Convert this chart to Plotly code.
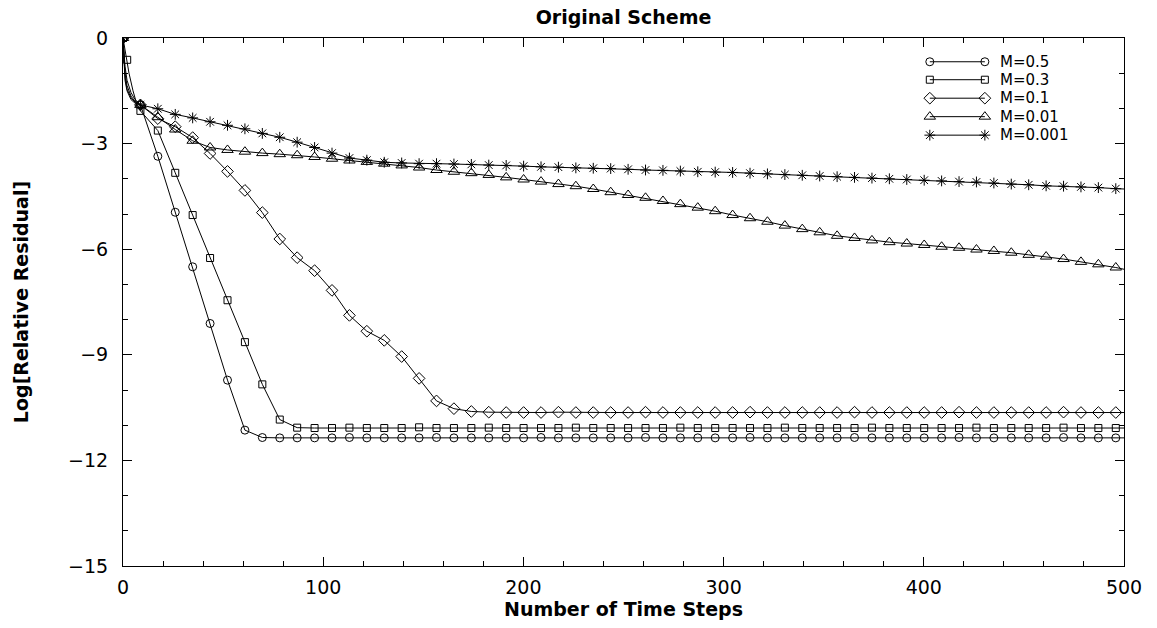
import plotly.graph_objects as go

# ---------------- data ----------------
steps = [0.0, 8.7, 17.4, 26.1, 34.8, 43.5, 52.2, 60.9, 69.6, 78.3,
         87.0, 95.7, 104.4, 113.1, 121.8, 130.5, 139.2, 147.9, 156.6, 165.3,
         174.0, 182.7, 191.4, 200.1, 208.8, 217.5, 226.2, 234.9, 243.6, 252.3,
         261.0, 269.7, 278.4, 287.1, 295.8, 304.5, 313.2, 321.9, 330.6, 339.3,
         348.0, 356.7, 365.4, 374.1, 382.8, 391.5, 400.2, 408.9, 417.6, 426.3,
         435.0, 443.7, 452.4, 461.1, 469.8, 478.5, 487.2, 495.9]

res_m05 = [0.00, -1.90, -3.36, -4.95, -6.50, -8.11, -9.72, -11.14, -11.35, -11.36,
           -11.36, -11.36, -11.36, -11.35, -11.36, -11.36, -11.36, -11.36, -11.35, -11.36,
           -11.36, -11.36, -11.36, -11.36, -11.35, -11.36, -11.36, -11.36, -11.36, -11.36,
           -11.35, -11.36, -11.36, -11.36, -11.36, -11.36, -11.35, -11.36, -11.36, -11.36,
           -11.36, -11.36, -11.35, -11.36, -11.36, -11.36, -11.36, -11.36, -11.35, -11.36,
           -11.36, -11.36, -11.36, -11.36, -11.35, -11.36, -11.36, -11.36]

res_m03 = [0.00, -2.07, -2.63, -3.83, -5.03, -6.25, -7.45, -8.64, -9.84, -10.84,
           -11.07, -11.08, -11.08, -11.07, -11.08, -11.08, -11.08, -11.06, -11.08, -11.08,
           -11.08, -11.07, -11.08, -11.08, -11.08, -11.08, -11.07, -11.08, -11.08, -11.08,
           -11.08, -11.08, -11.07, -11.08, -11.08, -11.08, -11.08, -11.08, -11.07, -11.08,
           -11.08, -11.08, -11.08, -11.07, -11.08, -11.08, -11.08, -11.08, -11.08, -11.07,
           -11.08, -11.08, -11.08, -11.08, -11.07, -11.08, -11.08, -11.08]

res_m01 = [0.00, -1.90, -2.29, -2.52, -2.83, -3.28, -3.79, -4.33, -4.96, -5.71,
           -6.24, -6.61, -7.17, -7.88, -8.33, -8.59, -9.05, -9.67, -10.31, -10.53,
           -10.61, -10.63, -10.64, -10.64, -10.64, -10.63, -10.64, -10.64, -10.64, -10.64,
           -10.63, -10.64, -10.64, -10.64, -10.64, -10.64, -10.63, -10.64, -10.64, -10.64,
           -10.64, -10.64, -10.63, -10.64, -10.64, -10.64, -10.64, -10.64, -10.63, -10.64,
           -10.64, -10.64, -10.64, -10.64, -10.63, -10.64, -10.64, -10.64]

res_m001 = [0.00, -1.90, -2.25, -2.60, -2.92, -3.11, -3.18, -3.23, -3.27, -3.30,
            -3.33, -3.38, -3.43, -3.48, -3.52, -3.57, -3.62, -3.68, -3.75, -3.80,
            -3.84, -3.89, -3.96, -4.02, -4.08, -4.15, -4.21, -4.29, -4.38, -4.46,
            -4.54, -4.63, -4.72, -4.82, -4.92, -5.03, -5.12, -5.22, -5.33, -5.43,
            -5.52, -5.62, -5.68, -5.75, -5.80, -5.84, -5.88, -5.93, -5.96, -6.01,
            -6.05, -6.10, -6.16, -6.21, -6.28, -6.36, -6.43, -6.52]

res_m0001 = [0.00, -1.90, -2.01, -2.17, -2.27, -2.38, -2.48, -2.58, -2.71, -2.82,
             -2.96, -3.11, -3.27, -3.41, -3.47, -3.53, -3.55, -3.57, -3.57, -3.58,
             -3.59, -3.61, -3.62, -3.64, -3.66, -3.67, -3.69, -3.70, -3.71, -3.73,
             -3.75, -3.76, -3.78, -3.80, -3.81, -3.82, -3.84, -3.86, -3.88, -3.90,
             -3.92, -3.94, -3.96, -3.98, -4.00, -4.02, -4.04, -4.06, -4.08, -4.09,
             -4.12, -4.15, -4.17, -4.20, -4.21, -4.23, -4.25, -4.28]

# early (unmarked) samples of each curve between step 0 and the first marker
lead_x_m05 = [1, 2, 4, 6]
lead_y_m05 = [-0.80, -1.20, -1.55, -1.75]
lead_x_m03 = [1, 2.1, 3, 5, 7]
lead_y_m03 = [-0.35, -0.62, -1.00, -1.50, -1.90]
lead_x_m01 = [1, 2, 4, 6]
lead_y_m01 = [-1.00, -1.35, -1.65, -1.80]
lead_x_m001 = [1, 2, 4, 6]
lead_y_m001 = [-1.10, -1.45, -1.70, -1.82]
lead_x_m0001 = [1, 2, 4, 6]
lead_y_m0001 = [-1.20, -1.50, -1.75, -1.85]

# extra marked sample (square at step 2.1)
extra_x_m03 = [2.1]
extra_y_m03 = [-0.62]

# last sample at the right edge
final_step = 500
final_res = {"M=0.5": -11.36, "M=0.3": -11.08, "M=0.1": -10.64,
             "M=0.01": -6.57, "M=0.001": -4.29}

labels = ["M=0.5", "M=0.3", "M=0.1", "M=0.01", "M=0.001"]

# ---------------- figure ----------------
FONT = "DejaVu Sans"
series = [
    ("M=0.5", res_m05, lead_x_m05, lead_y_m05, [], [], "circle-open", 8),
    ("M=0.3", res_m03, lead_x_m03, lead_y_m03, extra_x_m03, extra_y_m03, "square-open", 7),
    ("M=0.1", res_m01, lead_x_m01, lead_y_m01, [], [], "diamond-open", 9),
    ("M=0.01", res_m001, lead_x_m001, lead_y_m001, [], [], "triangle-up-open", 10),
    ("M=0.001", res_m0001, lead_x_m0001, lead_y_m0001, [], [], "asterisk-open", 9),
]

fig = go.Figure()
for name, res, lx, ly, ex, ey, sym, sz in series:
    pts = sorted(zip([steps[0]] + lx + steps[1:] + [final_step],
                     [res[0]] + ly + res[1:] + [final_res[name]]))
    fig.add_trace(go.Scatter(x=[p[0] for p in pts], y=[p[1] for p in pts],
                             mode="lines", line=dict(color="black", width=1),
                             showlegend=False, hoverinfo="skip"))
    fig.add_trace(go.Scatter(x=steps + ex, y=res + ey, mode="markers", name=name,
                             marker=dict(symbol=sym, size=sz, color="black",
                                         line=dict(color="black", width=1)),
                             showlegend=False))

# custom legend (line with a marker at each end), drawn on an overlay 0..1 axis
leg_x0, leg_x1, leg_tx = 0.806, 0.861, 0.874
leg_y = [0.955, 0.921, 0.886, 0.851, 0.816]
for (name, res, lx, ly, ex, ey, sym, sz), yy in zip(series, leg_y):
    fig.add_trace(go.Scatter(x=[leg_x0, leg_x1], y=[yy, yy], xaxis="x2", yaxis="y2",
                             mode="lines+markers", line=dict(color="black", width=1),
                             marker=dict(symbol=sym, size=sz, color="black",
                                         line=dict(color="black", width=1)),
                             showlegend=False, hoverinfo="skip"))
    fig.add_annotation(x=leg_tx, y=yy, xref="x2", yref="y2", text=name,
                       showarrow=False, xanchor="left", yanchor="middle",
                       font=dict(family=FONT, size=15, color="black"))

axis_common = dict(showline=True, linecolor="black", linewidth=1, mirror="ticks",
                   ticks="inside", ticklen=9, tickwidth=1, tickcolor="black",
                   showgrid=False, zeroline=False,
                   tickfont=dict(family=FONT, size=19, color="black"))

fig.update_layout(
    width=1157, height=628,
    margin=dict(l=123, r=33, t=38, b=52),
    paper_bgcolor="white", plot_bgcolor="white",
    showlegend=False,
    title=dict(text="<b>Original Scheme</b>", x=0.5, xref="paper", xanchor="center",
               y=1 - 17 / 628, yref="container", yanchor="middle",
               font=dict(family=FONT, size=19, color="black")),
    xaxis=dict(range=[0, 500], dtick=100, tick0=0,
               minor=dict(dtick=20, ticks="inside", ticklen=5, tickcolor="black"),
               ticklabelstandoff=4,
               title=dict(text="<b>Number of Time Steps</b>", standoff=5,
                          font=dict(family=FONT, size=19, color="black")),
               **axis_common),
    yaxis=dict(range=[-15, 0], dtick=3, tick0=0,
               minor=dict(dtick=1, ticks="inside", ticklen=5, tickcolor="black"),
               ticklabelstandoff=10,
               title=dict(text="<b>Log[Relative Residual]</b>", standoff=34,
                          font=dict(family=FONT, size=19, color="black")),
               **axis_common),
    xaxis2=dict(overlaying="x", range=[0, 1], visible=False),
    yaxis2=dict(overlaying="y", range=[0, 1], visible=False),
)

fig.write_html("out.html")
